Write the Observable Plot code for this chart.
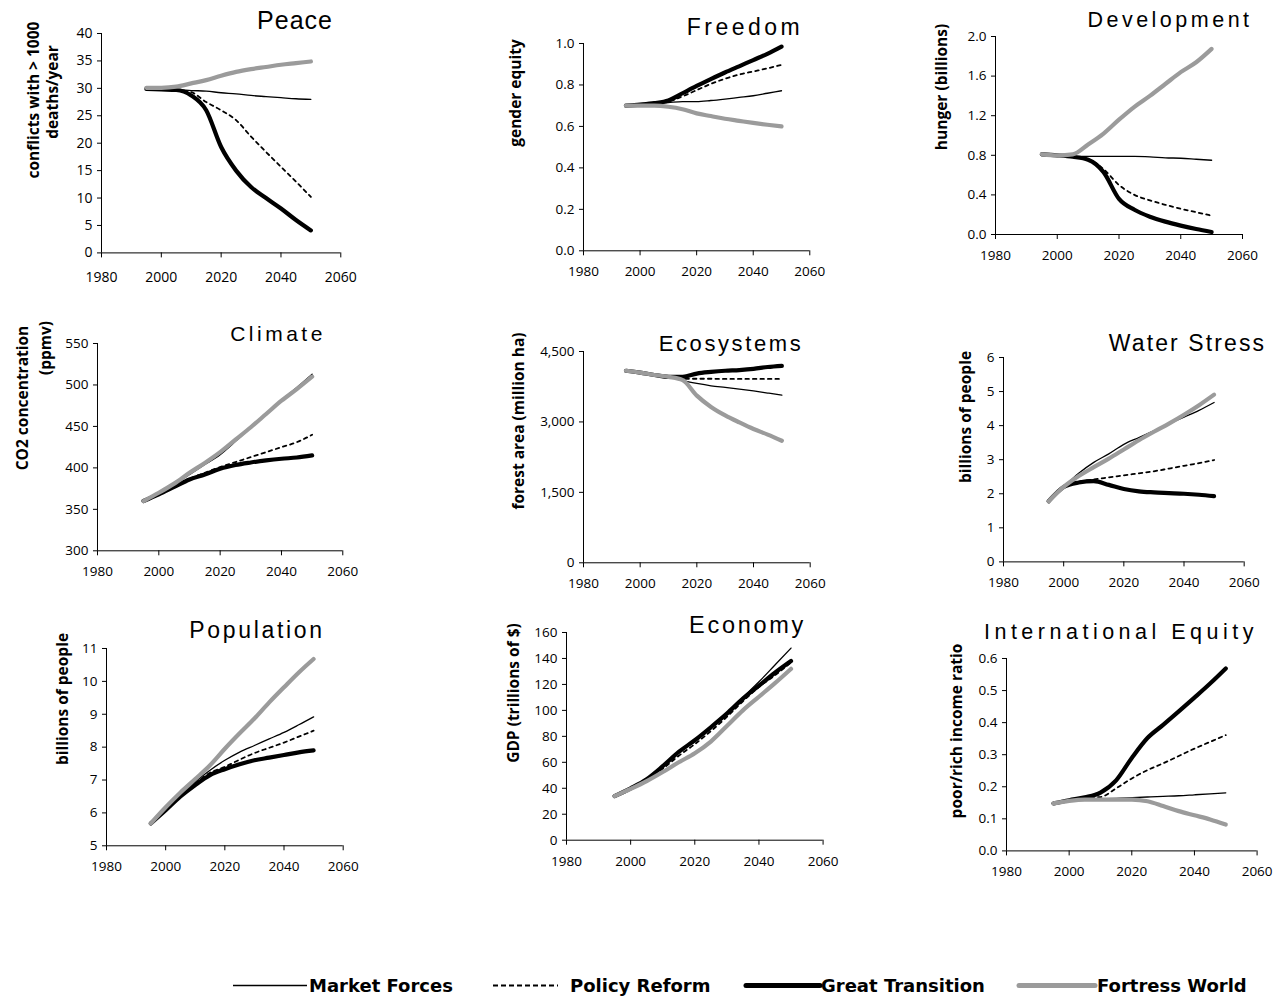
<!DOCTYPE html>
<html><head><meta charset="utf-8">
<script src="https://cdn.jsdelivr.net/npm/d3@7"></script>
<script src="https://cdn.jsdelivr.net/npm/@observablehq/plot@0.6"></script>
<style>
body{margin:0;background:#fff;}
#root{position:relative;width:1288px;height:998px;overflow:hidden;background:#fff;}
.panel{position:absolute;}
.title{position:absolute;font-family:"Liberation Sans",Arial,sans-serif;white-space:nowrap;line-height:1;transform:translate(-50%,-50%);color:#000;}
.ylab{position:absolute;font-family:"Open Sans",sans-serif;font-weight:700;white-space:nowrap;line-height:1;transform:translate(-50%,-50%) rotate(-90deg);color:#000;font-size:15.5px;}
</style></head><body><div id="root"></div>
<script>
// ---------- DATA ----------
const years = [1995,2000,2005,2010,2015,2020,2025,2030,2035,2040,2045,2050];
const scenarios = ["Market Forces","Policy Reform","Great Transition","Fortress World"];
const xTicks = [1980,2000,2020,2040,2060];

// Peace: conflicts with > 1000 deaths/year
const peaceMF = [29.8,29.8,29.8,29.6,29.5,29.2,29.0,28.7,28.5,28.3,28.1,28.0];
const peacePR = [29.8,29.8,29.7,29.3,27.5,26.0,24.2,21.2,18.4,15.7,13.0,10.2];
const peaceGT = [29.9,29.8,29.7,28.7,26.0,19.3,15.0,12.0,10.0,8.1,6.0,4.1];
const peaceFW = [30.1,30.1,30.3,30.9,31.5,32.3,33.0,33.5,33.9,34.3,34.6,34.9];
const peaceTicks = [0,5,10,15,20,25,30,35,40];

// Freedom: gender equity
const freedomMF = [0.70,0.705,0.71,0.715,0.72,0.72,0.725,0.732,0.74,0.748,0.76,0.772];
const freedomPR = [0.70,0.705,0.71,0.72,0.745,0.775,0.805,0.83,0.85,0.865,0.88,0.897];
const freedomGT = [0.70,0.705,0.712,0.725,0.76,0.795,0.828,0.86,0.89,0.92,0.95,0.985];
const freedomFW = [0.70,0.70,0.70,0.695,0.683,0.663,0.65,0.637,0.627,0.617,0.608,0.60];
const freedomTicks = [0,0.2,0.4,0.6,0.8,1.0];

// Development: hunger (billions)
const devMF = [0.81,0.80,0.79,0.79,0.79,0.79,0.79,0.785,0.775,0.77,0.76,0.75];
const devPR = [0.81,0.80,0.785,0.76,0.66,0.50,0.40,0.345,0.30,0.26,0.225,0.19];
const devGT = [0.81,0.80,0.785,0.755,0.63,0.36,0.25,0.18,0.13,0.09,0.055,0.025];
const devFW = [0.81,0.80,0.81,0.91,1.02,1.16,1.29,1.40,1.52,1.64,1.74,1.875];
const devTicks = [0,0.4,0.8,1.2,1.6,2.0];

// Climate: CO2 concentration (ppmv)
const climMF = [360,370,380,392,404,416,432,449,466,482,497,513];
const climPR = [360,368,378,387,394,401,407,413,419,425,431,440];
const climGT = [360,368,377,386,392,399,403.5,406.5,409,411,412.5,415];
const climFW = [360,370,381,394,406,419,434,449,465,481,495,510];
const climTicks = [300,350,400,450,500,550];

// Ecosystems: forest area (million ha)
const ecoMF = [4090,4050,4000,3960,3880,3820,3770,3735,3700,3660,3615,3570];
const ecoPR = [4090,4050,4000,3960,3920,3920,3920,3915,3915,3915,3915,3915];
const ecoGT = [4090,4050,4000,3960,3960,4030,4065,4090,4105,4130,4170,4195];
const ecoFW = [4090,4050,4000,3960,3890,3560,3320,3140,2990,2850,2730,2600];
const ecoTicks = [0,1500,3000,4500];

// Water Stress: billions of people
const waterMF = [1.78,2.2,2.6,2.92,3.17,3.45,3.65,3.85,4.05,4.25,4.45,4.68];
const waterPR = [1.78,2.2,2.35,2.42,2.48,2.54,2.6,2.66,2.74,2.82,2.9,2.99];
const waterGT = [1.78,2.2,2.33,2.37,2.26,2.14,2.07,2.04,2.02,2.0,1.97,1.93];
const waterFW = [1.78,2.2,2.52,2.78,3.03,3.3,3.57,3.82,4.06,4.32,4.6,4.91];
const waterTicks = [0,1,2,3,4,5,6];

// Population: billions of people
const popMF = [5.68,6.12,6.55,6.95,7.3,7.6,7.85,8.05,8.25,8.45,8.68,8.92];
const popPR = [5.68,6.1,6.52,6.9,7.22,7.4,7.62,7.82,7.98,8.14,8.32,8.5];
const popGT = [5.68,6.08,6.5,6.85,7.15,7.33,7.48,7.6,7.68,7.76,7.84,7.9];
const popFW = [5.68,6.17,6.62,7.03,7.45,7.95,8.42,8.87,9.36,9.82,10.27,10.68];
const popTicks = [5,6,7,8,9,10,11];

// Economy: GDP (trillions of $)
const econMF = [34,40,47,57,68,77,87,98,110,122,135,148];
const econPR = [34,40,46,55,65,74,84,95,107,118,127,137];
const econGT = [34,40,47,57,68,77,87,97.5,109,119,129,138];
const econFW = [34,39.5,45.5,52.5,60,67,76,88,100,110.5,121,132];
const econTicks = [0,20,40,60,80,100,120,140,160];

// International Equity: poor/rich income ratio
const eqMF = [0.148,0.157,0.162,0.163,0.164,0.166,0.168,0.170,0.172,0.175,0.178,0.181];
const eqPR = [0.148,0.158,0.165,0.168,0.195,0.226,0.252,0.273,0.296,0.319,0.34,0.361];
const eqGT = [0.148,0.158,0.167,0.182,0.22,0.29,0.352,0.393,0.435,0.478,0.522,0.569];
const eqFW = [0.148,0.156,0.16,0.16,0.16,0.16,0.155,0.14,0.124,0.111,0.098,0.082];
const eqTicks = [0,0.1,0.2,0.3,0.4,0.5,0.6];

// ---------- STYLE / LAYOUT ----------
const lineStyles = [
  {stroke:"#000", strokeWidth:1.3},
  {stroke:"#000", strokeWidth:1.8, strokeDasharray:"3.5,4"},
  {stroke:"#000", strokeWidth:4.2},
  {stroke:"#9b9b9b", strokeWidth:4.2}
];
const f1 = d3.format(".1f"), fc = d3.format(","), fi = d => String(d);

const panels = [
  {title:"Peace", series:[peaceMF,peacePR,peaceGT,peaceFW], ticks:peaceTicks, fmt:fi,
   x0:100.7, x1:340, yT:33.3, yB:252.7, tickFont:14, xPad:14,
   t:{x:295, y:19.5, size:25, ls:1},
   labels:[{text:"conflicts with > 1000", x:34, y:100},{text:"deaths/year", x:53, y:92}]},
  {title:"Freedom", series:[freedomMF,freedomPR,freedomGT,freedomFW], ticks:freedomTicks, fmt:f1,
   x0:582.7, x1:809, yT:42.7, yB:250, tickFont:13.5, xPad:11,
   t:{x:745, y:26.7, size:23, ls:3.5},
   labels:[{text:"gender equity", x:516, y:92.5}]},
  {title:"Development", series:[devMF,devPR,devGT,devFW], ticks:devTicks, fmt:f1,
   x0:995, x1:1242, yT:36, yB:234, tickFont:13.5, xPad:11,
   t:{x:1170, y:20.8, size:21.5, ls:3.5},
   labels:[{text:"hunger (billions)", x:942, y:87}]},
  {title:"Climate", series:[climMF,climPR,climGT,climFW], ticks:climTicks, fmt:fi,
   x0:96.7, x1:342, yT:342.7, yB:550, tickFont:13.5, xPad:11,
   t:{x:278, y:332.5, size:21, ls:3.5},
   labels:[{text:"CO2 concentration", x:23, y:398},{text:"(ppmv)", x:46, y:348}]},
  {title:"Ecosystems", series:[ecoMF,ecoPR,ecoGT,ecoFW], ticks:ecoTicks, fmt:fc,
   x0:583.3, x1:810, yT:350.7, yB:562, tickFont:13.5, xPad:11,
   t:{x:731, y:343.8, size:22, ls:2.6},
   labels:[{text:"forest area (million ha)", x:519, y:421}]},
  {title:"Water Stress", series:[waterMF,waterPR,waterGT,waterFW], ticks:waterTicks, fmt:fi,
   x0:1003, x1:1243.7, yT:357.3, yB:561.7, tickFont:13.5, xPad:11,
   t:{x:1187.5, y:343.3, size:23, ls:2.1},
   labels:[{text:"billions of people", x:966, y:417}]},
  {title:"Population", series:[popMF,popPR,popGT,popFW], ticks:popTicks, fmt:fi,
   x0:106, x1:342.7, yT:647.7, yB:845, tickFont:13.5, xPad:11,
   t:{x:257, y:630, size:23, ls:2.7},
   labels:[{text:"billions of people", x:63, y:699}]},
  {title:"Economy", series:[econMF,econPR,econGT,econFW], ticks:econTicks, fmt:fi,
   x0:565.7, x1:822.3, yT:632.3, yB:840, tickFont:13.5, xPad:11,
   t:{x:747.5, y:625.8, size:23.5, ls:2.7},
   labels:[{text:"GDP (trillions of $)", x:514, y:693}]},
  {title:"International Equity", series:[eqMF,eqPR,eqGT,eqFW], ticks:eqTicks, fmt:f1,
   x0:1005.7, x1:1256.3, yT:658.3, yB:850.7, tickFont:13.5, xPad:11,
   t:{x:1121, y:632.5, size:21.5, ls:4.5},
   labels:[{text:"poor/rich income ratio", x:957, y:731}]}
];

const root = document.getElementById("root");
const ML = 55, MR = 14, MT = 8, MB = 36;

for (const p of panels) {
  const yDomain = [p.ticks[0], p.ticks[p.ticks.length - 1]];
  const marks = [
    Plot.ruleX([1980], {stroke:"#000", strokeWidth:1}),
    Plot.ruleY([yDomain[0]], {stroke:"#000", strokeWidth:1})
  ];
  scenarios.forEach((s, i) => {
    const data = years.map((yr, j) => ({scenario:s, year:yr, value:p.series[i][j]}));
    marks.push(Plot.line(data, {x:"year", y:"value", curve:"monotone-x", strokeLinejoin:"round", strokeLinecap:"round", ...lineStyles[i]}));
  });
  const w = p.x1 - p.x0, h = p.yB - p.yT;
  const chart = Plot.plot({
    width: w + ML + MR, height: h + MT + MB,
    marginLeft: ML, marginRight: MR, marginTop: MT, marginBottom: MB,
    style: {fontFamily:'"Open Sans", sans-serif', fontSize: p.tickFont + "px", color:"#000", background:"transparent", overflow:"visible"},
    x: {domain:[1980, 2060], ticks:xTicks, tickFormat:fi, tickSize:5, tickPadding:p.xPad, label:null},
    y: {domain:yDomain, ticks:p.ticks, tickFormat:p.fmt, tickSize:4, tickPadding:5, label:null},
    marks
  });
  const div = document.createElement("div");
  div.className = "panel";
  div.style.left = (p.x0 - ML) + "px";
  div.style.top = (p.yT - MT) + "px";
  div.appendChild(chart);
  root.appendChild(div);

  const t = document.createElement("div");
  t.className = "title";
  t.textContent = p.title;
  t.style.left = p.t.x + "px";
  t.style.top = p.t.y + "px";
  t.style.fontSize = p.t.size + "px";
  t.style.letterSpacing = p.t.ls + "px";
  root.appendChild(t);

  for (const l of p.labels) {
    const d = document.createElement("div");
    d.className = "ylab";
    d.textContent = l.text;
    d.style.left = l.x + "px";
    d.style.top = l.y + "px";
    root.appendChild(d);
  }
}

// ---------- LEGEND ----------
const legendPos = [
  {x1:233, x2:307, tx:309},
  {x1:493, x2:558, tx:570},
  {x1:746, x2:820, tx:821},
  {x1:1019, x2:1095, tx:1097}
];
const NS = "http://www.w3.org/2000/svg";
const leg = document.createElementNS(NS, "svg");
leg.setAttribute("width", 1288); leg.setAttribute("height", 40);
leg.style.position = "absolute"; leg.style.left = "0px"; leg.style.top = "960px";
scenarios.forEach((s, i) => {
  const st = lineStyles[i], lp = legendPos[i];
  const ln = document.createElementNS(NS, "line");
  ln.setAttribute("x1", lp.x1); ln.setAttribute("x2", lp.x2);
  ln.setAttribute("y1", 25.5); ln.setAttribute("y2", 25.5);
  ln.setAttribute("stroke", st.stroke);
  ln.setAttribute("stroke-width", i >= 2 ? 5 : (i === 1 ? 1.8 : st.strokeWidth));
  if (st.strokeDasharray) ln.setAttribute("stroke-dasharray", "5,3");
  if (i >= 2) ln.setAttribute("stroke-linecap", "round");
  leg.appendChild(ln);
  const tx = document.createElementNS(NS, "text");
  tx.setAttribute("x", lp.tx); tx.setAttribute("y", 32);
  tx.setAttribute("font-family", '"DejaVu Sans", sans-serif');
  tx.setAttribute("font-weight", "bold");
  tx.setAttribute("font-size", 18);
  tx.textContent = s;
  leg.appendChild(tx);
});
root.appendChild(leg);
</script></body></html>
